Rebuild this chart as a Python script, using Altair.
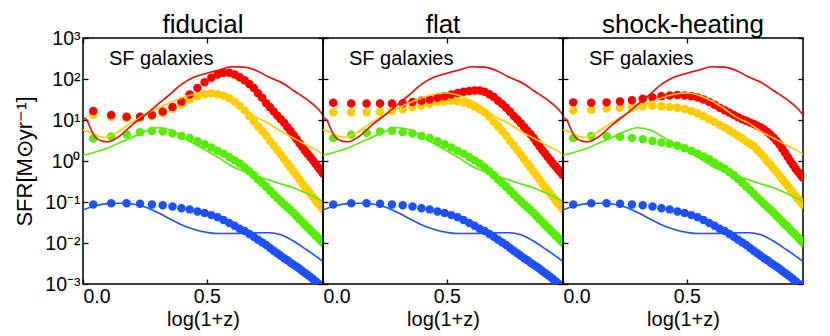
import math
import altair as alt
import pandas as pd

# ---------------- data ----------------
PANEL_TITLES = ["fiducial", "flat", "shock-heating"]
SERIES = ["blue", "green", "yellow", "red"]          # drawing order (red on top)
COLORS = ["#1f4fff", "#55ee00", "#ffcc00", "#ff0000"]

# redshifts of the model points (log(1+z) on x)
Z_DOTS = [0.1, 0.3, 0.5, 0.7, 0.9, 1.1, 1.3, 1.5, 1.7, 1.9, 2.1, 2.3, 2.5, 2.7,
          2.9, 3.1, 3.3, 3.5, 3.7, 3.9, 4.1, 4.3, 4.5, 4.7, 4.9, 5.1, 5.3, 5.5,
          5.7, 5.9, 6.1, 6.3, 6.5, 6.7, 6.9, 7.1, 7.3, 7.5, 7.7, 7.9, 8.1, 8.3]

# log10 SFR of the model points, per panel and series
BLUE_DOTS = [-1.06, -1.03, -1.03, -1.04, -1.06, -1.08, -1.11, -1.15, -1.18, -1.23,
             -1.27, -1.32, -1.37, -1.44, -1.51, -1.58, -1.65, -1.71, -1.78, -1.85,
             -1.92, -1.99, -2.05, -2.12, -2.19, -2.25, -2.31, -2.37, -2.42, -2.48,
             -2.53, -2.58, -2.63, -2.68, -2.73, -2.78, -2.83, -2.88, -2.93, -2.98,
             -3.03, -3.08]

GREEN_DOTS_1 = [0.55, 0.60, 0.65, 0.70, 0.73, 0.72, 0.67, 0.61, 0.56, 0.48,
                0.41, 0.33, 0.25, 0.18, 0.10, 0.02, -0.06, -0.15, -0.25, -0.35,
                -0.45, -0.54, -0.63, -0.72, -0.81, -0.90, -0.98, -1.06, -1.13, -1.20,
                -1.27, -1.35, -1.42, -1.49, -1.56, -1.62, -1.69, -1.75, -1.81, -1.87,
                -1.93, -1.99]
GREEN_DOTS_2 = [0.56, 0.64, 0.69, 0.72, 0.74, 0.71, 0.67, 0.61, 0.56, 0.48,
                0.41, 0.33, 0.25, 0.18, 0.10, 0.02, -0.06, -0.15, -0.25, -0.35,
                -0.45, -0.54, -0.63, -0.72, -0.81, -0.90, -0.98, -1.06, -1.13, -1.20,
                -1.27, -1.35, -1.42, -1.49, -1.56, -1.62, -1.69, -1.75, -1.81, -1.87,
                -1.93, -1.99]
GREEN_DOTS_3 = [0.56, 0.61, 0.61, 0.59, 0.56, 0.53, 0.49, 0.45, 0.42, 0.37,
                0.31, 0.25, 0.18, 0.11, 0.04, -0.04, -0.12, -0.19, -0.27, -0.35,
                -0.44, -0.53, -0.62, -0.71, -0.80, -0.89, -0.97, -1.05, -1.12, -1.19,
                -1.26, -1.34, -1.41, -1.48, -1.55, -1.61, -1.68, -1.74, -1.80, -1.86,
                -1.92, -1.98]

YELLOW_DOTS_1 = [1.13, 1.08, 1.05, 1.05, 1.09, 1.17, 1.27, 1.38, 1.50, 1.58,
                 1.63, 1.65, 1.63, 1.59, 1.53, 1.45, 1.35, 1.23, 1.10, 0.97,
                 0.85, 0.73, 0.62, 0.49, 0.38, 0.27, 0.16, 0.05, -0.06, -0.16,
                 -0.26, -0.35, -0.45, -0.55, -0.64, -0.72, -0.80, -0.88, -0.96, -1.03,
                 -1.10, -1.17]
YELLOW_DOTS_2 = [1.19, 1.19, 1.19, 1.20, 1.22, 1.26, 1.31, 1.35, 1.39, 1.43,
                 1.45, 1.47, 1.46, 1.43, 1.39, 1.33, 1.26, 1.18, 1.08, 0.96,
                 0.85, 0.73, 0.62, 0.49, 0.38, 0.27, 0.16, 0.05, -0.06, -0.16,
                 -0.26, -0.35, -0.45, -0.55, -0.64, -0.72, -0.80, -0.88, -0.96, -1.03,
                 -1.10, -1.17]
YELLOW_DOTS_3 = [1.23, 1.25, 1.28, 1.30, 1.31, 1.33, 1.34, 1.33, 1.32, 1.30,
                 1.27, 1.22, 1.16, 1.09, 1.02, 0.95, 0.88, 0.82, 0.75, 0.68,
                 0.61, 0.55, 0.48, 0.42, 0.36, 0.27, 0.18, 0.09, -0.01, -0.09,
                 -0.18, -0.27, -0.36, -0.45, -0.53, -0.61, -0.69, -0.77, -0.85, -0.92,
                 -0.99, -1.06]

RED_DOTS_1 = [1.22, 1.12, 1.08, 1.08, 1.12, 1.21, 1.32, 1.45, 1.62, 1.78,
              1.92, 2.03, 2.11, 2.15, 2.15, 2.11, 2.04, 1.97, 1.88, 1.78,
              1.65, 1.54, 1.41, 1.31, 1.21, 1.11, 1.02, 0.93, 0.83, 0.73,
              0.63, 0.53, 0.43, 0.34, 0.25, 0.17, 0.09, 0.01, -0.07, -0.14,
              -0.22, -0.30]
RED_DOTS_2 = [1.42, 1.40, 1.40, 1.40, 1.40, 1.41, 1.44, 1.47, 1.50, 1.54,
              1.58, 1.62, 1.66, 1.69, 1.71, 1.72, 1.72, 1.69, 1.63, 1.56,
              1.47, 1.39, 1.30, 1.20, 1.10, 1.01, 0.92, 0.83, 0.74, 0.65,
              0.56, 0.46, 0.36, 0.27, 0.18, 0.10, 0.02, -0.06, -0.13, -0.20,
              -0.27, -0.34]
RED_DOTS_3 = [1.43, 1.42, 1.43, 1.45, 1.48, 1.52, 1.55, 1.58, 1.60, 1.61,
              1.60, 1.58, 1.55, 1.50, 1.44, 1.37, 1.30, 1.24, 1.18, 1.12,
              1.07, 1.02, 0.98, 0.94, 0.90, 0.86, 0.82, 0.77, 0.71, 0.64,
              0.57, 0.49, 0.40, 0.30, 0.20, 0.10, 0.00, -0.09, -0.18, -0.26,
              -0.33, -0.40]

PANEL_DOTS = [
    {"blue": BLUE_DOTS, "green": GREEN_DOTS_1, "yellow": YELLOW_DOTS_1, "red": RED_DOTS_1},
    {"blue": BLUE_DOTS, "green": GREEN_DOTS_2, "yellow": YELLOW_DOTS_2, "red": RED_DOTS_2},
    {"blue": BLUE_DOTS, "green": GREEN_DOTS_3, "yellow": YELLOW_DOTS_3, "red": RED_DOTS_3},
]

# solid curves (same in every panel): x = log(1+z), value = log10 SFR
RED_LINE_X = [0.0, 0.015, 0.03, 0.05, 0.075, 0.1, 0.15, 0.2, 0.25, 0.3, 0.35, 0.4,
              0.45, 0.5, 0.55, 0.6, 0.65, 0.7, 0.75, 0.8, 0.85, 0.9, 0.93, 0.95, 0.97]
RED_LINE_V = [1.06, 1.00, 0.80, 0.58, 0.49, 0.47, 0.62, 0.89, 1.12, 1.37, 1.62, 1.88,
              2.05, 2.14, 2.22, 2.30, 2.29, 2.21, 2.05, 1.92, 1.72, 1.52, 1.38, 1.27, 1.12]
YELLOW_LINE_X = [0.0, 0.03, 0.06, 0.09, 0.13, 0.18, 0.25, 0.32, 0.39, 0.45, 0.5,
                 0.55, 0.6, 0.65, 0.7, 0.75, 0.8, 0.85, 0.9, 0.95, 0.97]
YELLOW_LINE_V = [0.76, 0.70, 0.61, 0.58, 0.67, 0.87, 1.13, 1.34, 1.52, 1.63, 1.66,
                 1.60, 1.47, 1.28, 1.07, 0.92, 0.72, 0.56, 0.40, 0.24, 0.16]
GREEN_LINE_X = [0.0, 0.05, 0.1, 0.15, 0.2, 0.25, 0.3, 0.35, 0.4, 0.45, 0.5,
                0.55, 0.6, 0.65, 0.7, 0.75, 0.8, 0.85, 0.9, 0.95, 0.97]
GREEN_LINE_V = [0.14, 0.22, 0.32, 0.45, 0.58, 0.72, 0.81, 0.76, 0.60, 0.42, 0.25,
                0.07, -0.12, -0.25, -0.36, -0.46, -0.56, -0.65, -0.78, -0.92, -0.98]
BLUE_LINE_X = [0.0, 0.05, 0.1, 0.15, 0.2, 0.25, 0.3, 0.35, 0.4, 0.45, 0.5,
               0.55, 0.6, 0.65, 0.7, 0.75, 0.8, 0.85, 0.9, 0.95, 0.97]
BLUE_LINE_V = [-1.19, -1.09, -1.04, -1.03, -1.05, -1.12, -1.25, -1.41, -1.56, -1.67, -1.74,
               -1.77, -1.77, -1.76, -1.75, -1.75, -1.80, -1.95, -2.15, -2.36, -2.45]

LINES = {
    "blue": (BLUE_LINE_X, BLUE_LINE_V),
    "green": (GREEN_LINE_X, GREEN_LINE_V),
    "yellow": (YELLOW_LINE_X, YELLOW_LINE_V),
    "red": (RED_LINE_X, RED_LINE_V),
}

X_TICKS = [0.0, 0.5]
Y_TICKS = [0.001, 0.01, 0.1, 1, 10, 100, 1000]
Y_TITLE = "SFR[M\u2299yr\u207b\u00b9]"
LABEL_TEXT = "SF galaxies"

# ---------------- tables ----------------
line_rows = []
for k, s in enumerate(SERIES):
    xs, vs = LINES[s]
    for x, v in zip(xs, vs):
        line_rows.append({"s": s, "o": k, "x": x, "sfr": 10 ** v})
lines_df = pd.DataFrame(line_rows)


def dots_table(p):
    rows = []
    for k, s in enumerate(SERIES):
        for z, v in zip(Z_DOTS, PANEL_DOTS[p][s]):
            rows.append({"s": s, "o": k, "x": math.log10(1 + z), "sfr": 10 ** v})
    return pd.DataFrame(rows)


FONT = "Liberation Sans"
LABEL_EXPR = ("['10\u207b\u00b3','10\u207b\u00b2','10\u207b\u00b9','10\u2070',"
              "'10\u00b9','10\u00b2','10\u00b3'][round(log(datum.value)/LN10)+3]")
LSIZE = 19.5
TSIZE = 20

COMMON = dict(offset=-5, tickSize=5, tickWidth=1.3, tickColor="black", domain=False, grid=False,
              labelFont=FONT, labelFontSize=LSIZE, labelColor="black",
              titleFont=FONT, titleFontSize=TSIZE, titleColor="black", titleFontWeight="normal")


def panel(p):
    first = p == 0
    xscale = alt.Scale(domain=[0, 0.97], nice=False, zero=False)
    yscale = alt.Scale(type="log", domain=[0.001, 1000], nice=False)
    color = alt.Color("s:N", scale=alt.Scale(domain=SERIES, range=COLORS), legend=None)

    if first:
        ycommon = dict(COMMON)
        ycommon["titleFontSize"] = 22
        y_left = alt.Axis(orient="left", values=Y_TICKS, labelExpr=LABEL_EXPR, labelPadding=3,
                          title=Y_TITLE, titlePadding=8, **ycommon)
    else:
        y_left = alt.Axis(orient="left", values=Y_TICKS, labels=False, title=None, **COMMON)

    dots = alt.Chart(dots_table(p)).mark_circle(size=72, opacity=1, clip=True).encode(
        x=alt.X("x:Q", scale=xscale,
                axis=alt.Axis(orient="top", values=X_TICKS, labels=False, title=None, **COMMON)),
        y=alt.Y("sfr:Q", scale=yscale,
                axis=alt.Axis(orient="right", values=Y_TICKS, labels=False, title=None, **COMMON)),
        color=color,
        order=alt.Order("o:Q"),
    )
    lines = alt.Chart(lines_df).mark_line(strokeWidth=1.6, interpolate="monotone", clip=True).encode(
        x=alt.X("x:Q", scale=xscale,
                axis=alt.Axis(orient="bottom", values=X_TICKS, format=".1f", labelPadding=3,
                              title="log(1+z)", titlePadding=4, **COMMON)),
        y=alt.Y("sfr:Q", scale=yscale, axis=y_left),
        color=color,
        detail="s:N",
    )
    label = alt.Chart(pd.DataFrame({"t": [LABEL_TEXT]})).mark_text(
        align="left", baseline="alphabetic", fontSize=20, font=FONT, color="black"
    ).encode(text="t:N", x=alt.value(26), y=alt.value(27))
    heading = alt.Chart(pd.DataFrame({"t": [PANEL_TITLES[p]]})).mark_text(
        align="center", baseline="alphabetic", fontSize=26, font=FONT, color="black"
    ).encode(text="t:N", x=alt.value(120), y=alt.value(-5))

    return alt.layer(dots, lines, label, heading).resolve_axis(
        x="independent", y="independent"
    ).properties(width=240, height=246)


chart = alt.hconcat(panel(0), panel(1), panel(2), spacing=0, bounds="flush").properties(
    padding={"left": 5, "right": 5, "top": 3, "bottom": 5}
).configure(
    font=FONT
).configure_view(
    stroke="black", strokeWidth=1.5
)

chart.save("out.html", embed_options={"renderer": "svg", "actions": False})
